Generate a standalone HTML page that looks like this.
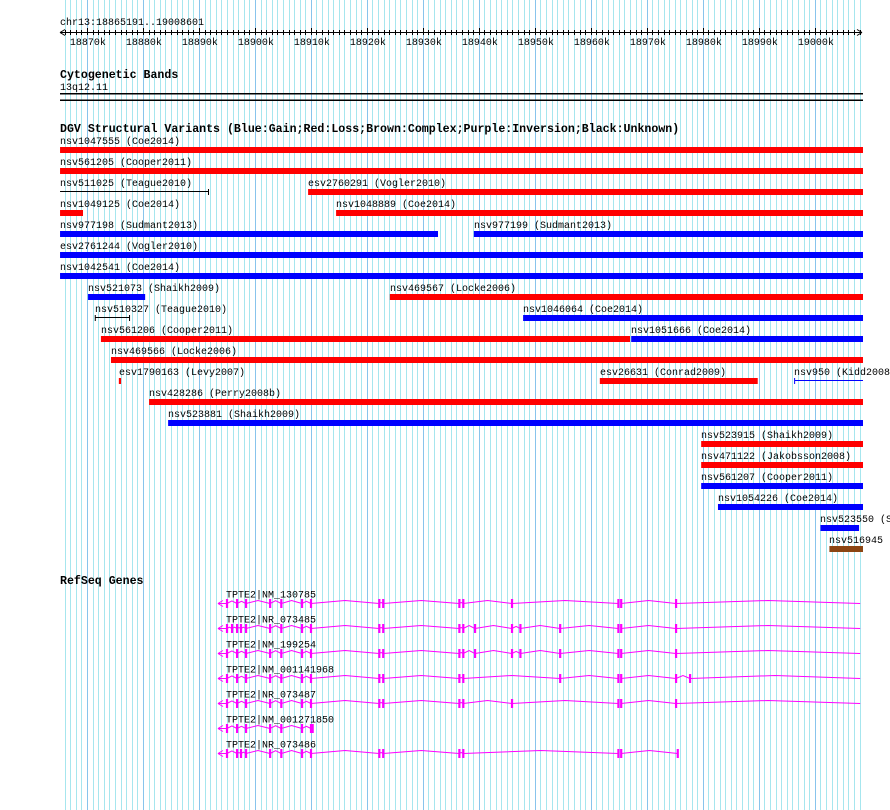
<!DOCTYPE html>
<html><head><meta charset="utf-8"><style>
html,body{margin:0;padding:0;background:#fff;}
svg{display:block;}
text{font-family:"Liberation Mono","DejaVu Sans Mono",monospace;font-size:10px;fill:#000;}
.b{font-weight:bold;font-size:11.6px;}
</style></head><body>
<svg id="c" width="890" height="810" xmlns="http://www.w3.org/2000/svg">
<g id="grid"></g>
<g id="axis"></g>
<text x="60" y="25">chr13:18865191..19008601</text>
<text x="60" y="78" class="b">Cytogenetic Bands</text>
<text x="60" y="90">13q12.11</text>
<rect x="60" y="93" width="803" height="1.5" fill="#000"/>
<rect x="60" y="99.5" width="803" height="1.5" fill="#000"/>
<text x="60" y="132" class="b">DGV Structural Variants (Blue:Gain;Red:Loss;Brown:Complex;Purple:Inversion;Black:Unknown)</text>
<g id="dgv"></g>
<text x="60" y="584" class="b">RefSeq Genes</text>
<g id="genes"></g>
</svg>
<script>
// ---- data ----
const regionStart = 18865.191, regionEnd = 19008.601; // kb
const tickLabels = ["18870k","18880k","18890k","18900k","18910k","18920k","18930k","18940k","18950k","18960k","18970k","18980k","18990k","19000k"];
const tickValues = [18870,18880,18890,18900,18910,18920,18930,18940,18950,18960,18970,18980,18990,19000];
const svNames = ["nsv1047555 (Coe2014)","nsv561205 (Cooper2011)","nsv511025 (Teague2010)","esv2760291 (Vogler2010)","nsv1049125 (Coe2014)","nsv1048889 (Coe2014)","nsv977198 (Sudmant2013)","nsv977199 (Sudmant2013)","esv2761244 (Vogler2010)","nsv1042541 (Coe2014)","nsv521073 (Shaikh2009)","nsv469567 (Locke2006)","nsv510327 (Teague2010)","nsv1046064 (Coe2014)","nsv561206 (Cooper2011)","nsv1051666 (Coe2014)","nsv469566 (Locke2006)","esv1790163 (Levy2007)","esv26631 (Conrad2009)","nsv950 (Kidd2008)","nsv428286 (Perry2008b)","nsv523881 (Shaikh2009)","nsv523915 (Shaikh2009)","nsv471122 (Jakobsson2008)","nsv561207 (Cooper2011)","nsv1054226 (Coe2014)","nsv523550 (Shaikh2009)","nsv516945"];
const svRow   = [0,1,2,2,3,3,4,4,5,6,7,7,8,8,9,9,10,11,11,11,12,13,14,15,16,17,18,19];
const svStart = [18865.2,18865.2,18865.2,18909.5,18865.2,18914.5,18865.2,18939.1,18865.2,18865.2,18870.2,18924.1,18871.4,18947.9,18872.5,18967.2,18874.3,18875.7,18961.6,18996.3,18881.1,18884.5,18979.7,18979.7,18979.7,18982.7,19001.0,19002.6];
const svEnd   = [19008.6,19008.6,18891.8,19008.6,18869.3,19008.6,18932.7,19008.6,19008.6,19008.6,18880.4,19008.6,18877.7,19008.6,18967.0,19008.6,19008.6,18876.1,18989.8,19008.6,19008.6,19008.6,19008.6,19008.6,19008.6,19008.6,19007.9,19008.6];
const svType  = ["loss","loss","unk","loss","loss","loss","gain","gain","gain","gain","gain","loss","unk","gain","loss","gain","loss","loss","loss","gainline","loss","gain","loss","loss","gain","gain","gain","complex"];
const geneNames = ["TPTE2|NM_130785","TPTE2|NR_073485","TPTE2|NM_199254","TPTE2|NM_001141968","TPTE2|NR_073487","TPTE2|NM_001271850","TPTE2|NR_073486"];
const geneStart = [18893.4,18893.4,18893.4,18893.4,18893.4,18893.4,18893.4];
const geneEnd   = [19008.1,19008.1,19008.1,19008.1,19008.1,18910.4,18975.6];
const geneExons = [
 [18895.0,18896.8,18898.4,18902.7,18904.7,18908.4,18910.0,18922.2,18922.9,18936.5,18937.2,18945.9,18964.9,18965.4,18975.2],
 [18895.0,18895.9,18896.8,18897.5,18898.4,18902.7,18904.7,18908.4,18910.0,18922.2,18922.9,18936.5,18937.2,18939.3,18945.9,18947.4,18954.5,18964.9,18965.4,18975.2],
 [18895.0,18896.8,18898.4,18902.7,18904.7,18908.4,18910.0,18922.2,18922.9,18936.5,18937.2,18939.3,18945.9,18947.4,18954.5,18964.9,18965.4,18975.2],
 [18895.0,18896.8,18898.4,18902.7,18904.7,18908.4,18910.0,18922.2,18922.9,18936.5,18937.2,18954.5,18964.9,18965.4,18975.2,18977.7],
 [18895.0,18896.8,18898.4,18902.7,18904.7,18908.4,18910.0,18922.2,18922.9,18936.5,18937.2,18945.9,18964.9,18965.4,18975.2],
 [18895.0,18896.8,18898.4,18902.7,18904.7,18908.4,18910.0,18910.3],
 [18895.0,18896.8,18897.5,18898.4,18902.7,18904.7,18908.4,18910.0,18922.2,18922.9,18936.5,18937.2,18964.9,18965.4,18975.5]
];
// ---- scales ----
const X0=60, X1=863;
const xs = kb => X0 + (kb-regionStart)/(regionEnd-regionStart)*(X1-X0);
const NS="http://www.w3.org/2000/svg";
function mk(tag, attrs, parent){const e=document.createElementNS(NS,tag);for(const k in attrs)e.setAttribute(k,attrs[k]);parent.appendChild(e);return e;}
// grid
const grid=document.getElementById('grid');
for(let k=Math.ceil(regionStart);k<=Math.floor(regionEnd);k++){
  const x=Math.round(xs(k))+0.5;
  const l=mk('line',{x1:x,x2:x,y1:0,y2:810,stroke:(k%10===0)?'#88c4ec':'#a6e6ee','stroke-width':1},grid);
  
  
}
// axis
const ax=document.getElementById('axis');
mk('line',{x1:60,x2:862,y1:32.5,y2:32.5,stroke:'#000'},ax);
mk('path',{d:'M60 32.5 l5 -3 M60 32.5 l5 3 M862 32.5 l-5 -3 M862 32.5 l-5 3',stroke:'#000',fill:'none'},ax);
for(let k=Math.ceil(regionStart);k<=Math.floor(regionEnd);k++){
  const x=Math.round(xs(k))+0.5;
  mk('line',{x1:x,x2:x,y1:(k%10===0)?28:30,y2:35,stroke:'#000'},ax);
}
tickValues.forEach((v,i)=>{
  const t=mk('text',{x:xs(v)+1,y:45,'text-anchor':'middle'},ax);
  t.textContent=tickLabels[i];
  
  
});
// dgv
const dgv=document.getElementById('dgv');
const col={loss:'#ff0000',gain:'#0000ff',complex:'#8b4513',unk:'#000',gainline:'#0000ff'};
svNames.forEach((n,i)=>{
  const top=147+21*svRow[i];
  const x1=xs(svStart[i]), x2=xs(svEnd[i]);
  const t=mk('text',{x:Math.max(60,Math.round(x1)),y:top-3},dgv);
  t.textContent=n;
  
  
  let m;
  if(svType[i]==='unk'||svType[i]==='gainline'){
    let d=`M${x1} ${top+2.5} H${x2}`;
    if(svType[i]==='unk') d+=` M${x2-0.5} ${top} v6`;
    if(svStart[i]>18866) d+=` M${x1+0.5} ${top} v6`;
    m=mk('path',{d:d,stroke:col[svType[i]],fill:'none','stroke-width':1},dgv);
  } else {
    m=mk('rect',{x:x1,y:top,width:Math.max(2,x2-x1),height:6,fill:col[svType[i]]},dgv);
  }
  
  
});
// genes
const gg=document.getElementById('genes');
geneNames.forEach((n,i)=>{
  const y=603+25*i+0.5;
  const t=mk('text',{x:226,y:y-6},gg);
  t.textContent=n;
  
  
  const g=mk('g',{},gg);
  
  
  const sx=xs(geneStart[i]), ex=xs(geneEnd[i]);
  const pts=[...geneExons[i].map(xs)];
  let d=`M${sx} ${y} L${pts[0]} ${y} M${sx} ${y} l5 -3 M${sx} ${y} l5 3`;
  const nodes=[...pts, ex];
  for(let j=0;j<nodes.length-1;j++){
    const a=nodes[j], b=nodes[j+1];
    if(b-a<3){continue;}
    const m=(a+b)/2, h=Math.min(3,(b-a)/4);
    d+=` M${a} ${y} L${m} ${y-h} L${b} ${y}`;
  }
  mk('path',{d:d,stroke:'#ff00ff',fill:'none','stroke-width':1},g);
  pts.forEach(p=>mk('rect',{x:p-1,y:y-4.5,width:2.2,height:9,fill:'#ff00ff'},g));
});
</script>
</body></html>
